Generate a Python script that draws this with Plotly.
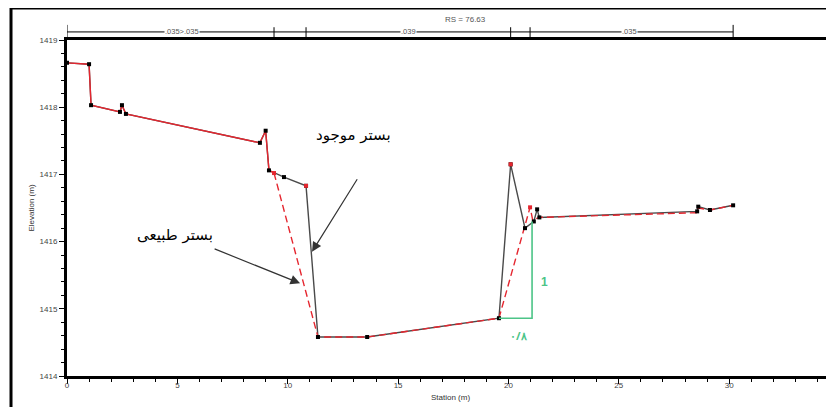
import plotly.graph_objects as go

# ---- data ----
station_existing = [0, 1.0, 1.09, 2.4, 2.49, 2.67, 8.74, 9.0, 9.15, 9.83, 10.83, 11.37, 13.6,
                    19.57, 20.1, 20.75, 21.15, 21.3, 21.4, 28.55, 28.6, 29.13, 30.18]
elev_existing = [1418.66, 1418.64, 1418.03, 1417.93, 1418.03, 1417.9, 1417.47, 1417.65, 1417.06,
                 1416.96, 1416.83, 1414.58, 1414.58, 1414.86, 1417.15, 1416.2, 1416.3, 1416.48,
                 1416.36, 1416.45, 1416.52, 1416.47, 1416.54]

station_natural_bank = [0, 1.0, 1.09, 2.4, 2.49, 2.67, 8.74, 9.0, 9.15, 9.38]
elev_natural_bank = [1418.66, 1418.64, 1418.03, 1417.93, 1418.03, 1417.9, 1417.47, 1417.65, 1417.06, 1417.02]
station_natural_channel = [9.38, 11.37, 13.6, 19.57, 20.98, 21.1, 21.4, 28.55, 28.6, 29.13, 30.18]
elev_natural_channel = [1417.02, 1414.58, 1414.58, 1414.86, 1416.51, 1416.32, 1416.36, 1416.43,
                        1416.5, 1416.47, 1416.54]

bank_station = [9.38, 10.83, 20.1, 20.98]
bank_elev = [1417.02, 1416.83, 1417.15, 1416.51]

n_breaks = [0, 9.38, 10.83, 20.1, 20.98, 30.18]
n_labels = [".035>.035", ".039", ".035"]
n_label_pos = [5.2, 15.45, 25.5]

slope_base = [19.57, 21.07]
slope_elev = [1414.86, 1416.3]
slope_h_label = "۰/۸"
slope_v_label = "1"

label_existing = "بستر موجود"
label_natural = "بستر طبیعی"
rs_label = "RS = 76.63"

x_ticks = [0, 5, 10, 15, 20, 25, 30, 35]
y_ticks = [1414, 1415, 1416, 1417, 1418, 1419]

# ---- figure ----
RED = "#e5262f"
GREEN = "#4cc487"
fig = go.Figure()

fig.add_trace(go.Scatter(x=station_existing, y=elev_existing, mode="lines",
                         line=dict(color="#4a4a4a", width=1.4), showlegend=False))
fig.add_trace(go.Scatter(x=station_natural_bank, y=elev_natural_bank, mode="lines",
                         line=dict(color=RED, width=1.4), showlegend=False))
fig.add_trace(go.Scatter(x=station_natural_channel, y=elev_natural_channel, mode="lines",
                         line=dict(color=RED, width=1.4, dash="7px,4px"), showlegend=False))
fig.add_trace(go.Scatter(x=station_existing, y=elev_existing, mode="markers",
                         marker=dict(color="black", size=4, symbol="square"), showlegend=False))
fig.add_trace(go.Scatter(x=bank_station, y=bank_elev, mode="markers",
                         marker=dict(color=RED, size=4, symbol="square"), showlegend=False))

# green slope triangle
fig.add_trace(go.Scatter(x=[slope_base[0], slope_base[1], slope_base[1]],
                         y=[slope_elev[0], slope_elev[0], slope_elev[1]], mode="lines",
                         line=dict(color=GREEN, width=1.6), showlegend=False))

annotations = []
annotations.append(dict(x=21.62, y=1415.4, text="<b>" + slope_v_label + "</b>", showarrow=False,
                        font=dict(color=GREEN, size=12, family="Liberation Sans")))
annotations.append(dict(x=20.45, y=1414.6, text="<b>" + slope_h_label + "</b>", showarrow=False,
                        font=dict(color=GREEN, size=11, family="Noto Sans")))

# labels with arrows
annotations.append(dict(x=13.0, y=1417.59, text=label_existing, showarrow=False,
                        font=dict(color="black", size=15, family="DejaVu Sans")))
annotations.append(dict(x=4.9, y=1416.1, text=label_natural, showarrow=False,
                        font=dict(color="black", size=15, family="DejaVu Sans")))
annotations.append(dict(x=11.1, y=1415.85, ax=13.19, ay=1416.95, axref="x", ayref="y",
                        text="", showarrow=True, arrowhead=2, arrowsize=1.6, arrowwidth=1.2,
                        arrowcolor="#333"))
annotations.append(dict(x=10.56, y=1415.38, ax=6.62, ay=1415.9, axref="x", ayref="y",
                        text="", showarrow=True, arrowhead=2, arrowsize=1.6, arrowwidth=1.2,
                        arrowcolor="#333"))

# top manning-n bar
shapes = []
bar_y = 1.024
shapes.append(dict(type="line", xref="x", yref="paper", x0=n_breaks[0], x1=n_breaks[-1],
                   y0=bar_y, y1=bar_y, line=dict(color="black", width=1)))
for i, b in enumerate(n_breaks):
    top = 1.045 if i in (0, len(n_breaks) - 1) else 1.038
    shapes.append(dict(type="line", xref="x", yref="paper", x0=b, x1=b, y0=1.005, y1=top,
                       line=dict(color="black", width=1)))
for xp, lab in zip(n_label_pos, n_labels):
    annotations.append(dict(x=xp, y=bar_y, xref="x", yref="paper", yanchor="middle",
                            text=lab, showarrow=False, bgcolor="white", borderpad=0,
                            font=dict(size=7.5, color="#555", family="Liberation Sans")))
annotations.append(dict(x=18.05, y=1.06, xref="x", yref="paper", yanchor="middle",
                        text=rs_label, showarrow=False,
                        font=dict(size=8, color="#555", family="Liberation Sans")))

# outer frame
shapes.append(dict(type="line", xref="paper", yref="paper", x0=-0.073, x1=-0.073,
                   y0=-0.12, y1=1.095, line=dict(color="black", width=3)))
shapes.append(dict(type="line", xref="paper", yref="paper", x0=-0.073, x1=1.02,
                   y0=1.095, y1=1.095, line=dict(color="black", width=3)))
shapes.append(dict(type="line", xref="paper", yref="paper", x0=0.993, x1=0.993,
                   y0=0, y1=1, line=dict(color="#e6e6e6", width=1)))

fig.update_layout(
    width=834, height=407,
    margin=dict(l=59, r=8, t=32, b=39, autoexpand=False),
    plot_bgcolor="white", paper_bgcolor="white",
    shapes=shapes, annotations=annotations,
    font=dict(family="Liberation Sans", size=8, color="#333"),
)
fig.update_xaxes(range=[0, 34.75], tickvals=x_ticks, ticks="outside", ticklen=5, tickwidth=1,
                 tickcolor="black", showline=True, linewidth=3, linecolor="black", mirror=True,
                 showgrid=False, zeroline=False, tickfont=dict(size=8, color="#444"),
                 automargin=False, ticklabelstandoff=-6,
                 minor=dict(dtick=1, ticks="outside", ticklen=3, tickcolor="black"),
                 title=dict(text="Station (m)", font=dict(size=8, color="#333"), standoff=6))
fig.update_yaxes(range=[1414, 1419], tickvals=y_ticks, ticks="outside", ticklen=5, tickwidth=1,
                 tickcolor="black", showline=True, linewidth=3, linecolor="black",
                 showgrid=False, zeroline=False, tickfont=dict(size=8, color="#444"),
                 automargin=False,
                 minor=dict(dtick=0.2, ticks="outside", ticklen=3, tickcolor="black"),
                 title=dict(text="Elevation (m)", font=dict(size=8, color="#333"), standoff=4))

fig.write_html("out.html")
